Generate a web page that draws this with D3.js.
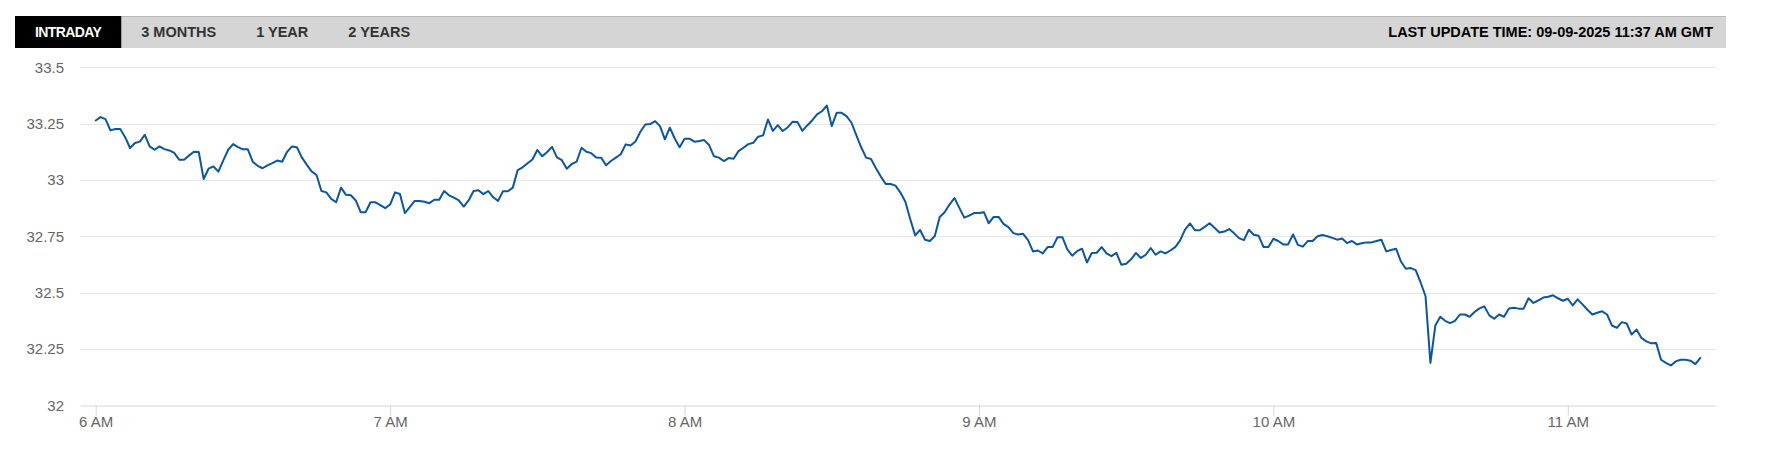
<!DOCTYPE html>
<html>
<head>
<meta charset="utf-8">
<script src="https://cdn.jsdelivr.net/npm/d3@7/dist/d3.min.js"></script>
<style>
  html, body { margin: 0; padding: 0; background: #fff; }
  svg { display: block; }
</style>
</head>
<body>
<svg id="chart" width="1782" height="449"></svg>
<script>
// ---------------- data ----------------
const tabs = ["INTRADAY", "3 MONTHS", "1 YEAR", "2 YEARS"];
const lastUpdate = "LAST UPDATE TIME: 09-09-2025 11:37 AM GMT";
const sessionStart = "2025-09-09T06:00:00";   // first sample, one sample per minute
const yTicks = [32, 32.25, 32.5, 32.75, 33, 33.25, 33.5];
const xTickLabels = ["6 AM", "7 AM", "8 AM", "9 AM", "10 AM", "11 AM"];
const xTickHours = [6, 7, 8, 9, 10, 11];
const prices = [
  33.264, 33.279, 33.270, 33.220, 33.226, 33.226, 33.190, 33.142, 33.164, 33.170,
  33.200, 33.149, 33.134, 33.149, 33.137, 33.131, 33.120, 33.090, 33.090, 33.108,
  33.125, 33.124, 33.004, 33.050, 33.060, 33.037, 33.087, 33.134, 33.159, 33.146,
  33.136, 33.136, 33.081, 33.063, 33.052, 33.065, 33.075, 33.086, 33.081, 33.125,
  33.149, 33.145, 33.100, 33.068, 33.038, 33.022, 32.951, 32.945, 32.916, 32.901,
  32.966, 32.934, 32.932, 32.909, 32.857, 32.857, 32.901, 32.901, 32.888, 32.875,
  32.891, 32.945, 32.938, 32.853, 32.879, 32.907, 32.907, 32.903, 32.897, 32.912,
  32.912, 32.951, 32.932, 32.922, 32.909, 32.882, 32.909, 32.951, 32.954, 32.937,
  32.951, 32.923, 32.907, 32.950, 32.950, 32.966, 33.044, 33.056, 33.074, 33.091,
  33.133, 33.105, 33.124, 33.147, 33.100, 33.088, 33.050, 33.071, 33.081, 33.143,
  33.125, 33.119, 33.100, 33.099, 33.065, 33.084, 33.099, 33.114, 33.158, 33.153,
  33.171, 33.214, 33.246, 33.248, 33.261, 33.239, 33.180, 33.232, 33.184, 33.145,
  33.183, 33.183, 33.170, 33.173, 33.177, 33.155, 33.105, 33.099, 33.084, 33.097,
  33.094, 33.128, 33.143, 33.159, 33.165, 33.192, 33.198, 33.268, 33.218, 33.243,
  33.217, 33.233, 33.258, 33.257, 33.218, 33.242, 33.264, 33.291, 33.305, 33.330,
  33.239, 33.298, 33.298, 33.283, 33.255, 33.199, 33.145, 33.099, 33.093, 33.052,
  33.015, 32.982, 32.982, 32.975, 32.944, 32.903, 32.826, 32.754, 32.778, 32.735,
  32.729, 32.751, 32.836, 32.857, 32.891, 32.920, 32.876, 32.833, 32.842, 32.853,
  32.853, 32.857, 32.808, 32.836, 32.836, 32.805, 32.791, 32.764, 32.758, 32.761,
  32.733, 32.683, 32.687, 32.674, 32.702, 32.702, 32.746, 32.746, 32.692, 32.664,
  32.684, 32.695, 32.634, 32.676, 32.677, 32.702, 32.674, 32.662, 32.677, 32.624,
  32.628, 32.648, 32.676, 32.654, 32.668, 32.698, 32.668, 32.683, 32.674, 32.687,
  32.702, 32.732, 32.780, 32.807, 32.777, 32.777, 32.792, 32.808, 32.788, 32.767,
  32.771, 32.782, 32.763, 32.742, 32.733, 32.779, 32.757, 32.752, 32.702, 32.702,
  32.739, 32.729, 32.714, 32.714, 32.758, 32.712, 32.704, 32.729, 32.729, 32.750,
  32.756, 32.750, 32.743, 32.735, 32.740, 32.720, 32.729, 32.714, 32.719, 32.723,
  32.723, 32.729, 32.735, 32.683, 32.689, 32.695, 32.638, 32.606, 32.609, 32.600,
  32.545, 32.485, 32.188, 32.354, 32.393, 32.375, 32.365, 32.375, 32.403, 32.403,
  32.393, 32.414, 32.430, 32.439, 32.399, 32.384, 32.403, 32.393, 32.430, 32.433,
  32.429, 32.429, 32.475, 32.454, 32.466, 32.478, 32.482, 32.488, 32.475, 32.464,
  32.473, 32.443, 32.470, 32.448, 32.424, 32.403, 32.411, 32.417, 32.403, 32.354,
  32.344, 32.369, 32.363, 32.314, 32.336, 32.299, 32.284, 32.275, 32.277, 32.202,
  32.188, 32.177, 32.195, 32.202, 32.202, 32.198, 32.183, 32.210
];

// ---------------- layout ----------------
const W = 1782, H = 449;
const plot = { left: 80, right: 1716, top: 67.3, bottom: 405.3 };
const FONT = "'Liberation Sans', Arial, Helvetica, sans-serif";

const svg = d3.select("#chart");

// header bar
const header = svg.append("g");
header.append("rect").attr("x", 15).attr("y", 16).attr("width", 1711).attr("height", 32).attr("fill", "#d5d5d5");
header.append("line").attr("x1", 15).attr("x2", 1726).attr("y1", 16.5).attr("y2", 16.5).attr("stroke", "#b9b9b9").attr("stroke-width", 1);

let tx = 15;
tabs.forEach((t, i) => {
  const active = i === 0;
  const g = header.append("g");
  const rect = g.append("rect").attr("y", 16).attr("height", 32).attr("fill", active ? "#000" : "none");
  const text = g.append("text")
    .attr("y", 37)
    .attr("font-family", FONT)
    .attr("font-size", active ? "14px" : "14.5px")
    .attr("font-weight", "bold")
    .attr("letter-spacing", active ? "-0.6px" : "0px")
    .attr("fill", active ? "#fff" : "#333")
    .text(t);
  const w = text.node().getComputedTextLength();
  text.attr("x", tx + 20);
  rect.attr("x", tx).attr("width", w + 40);
  tx += w + 40;
});

header.append("text")
  .attr("x", 1713).attr("y", 37).attr("text-anchor", "end")
  .attr("font-family", FONT).attr("font-size", "14.5px").attr("font-weight", "bold")
  .attr("fill", "#000")
  .text(lastUpdate);

// scales
const parse = d3.timeParse("%Y-%m-%dT%H:%M:%S");
const t0 = parse(sessionStart);
const data = prices.map((v, i) => ({ t: d3.timeMinute.offset(t0, i), v }));
const pad = 3.2 * 60 * 1000;
const x = d3.scaleTime()
  .domain([new Date(+data[0].t - pad), new Date(+data[data.length - 1].t + pad)])
  .range([plot.left, plot.right]);
const y = d3.scaleLinear().domain([32, 33.5]).range([plot.bottom, plot.top]);

// gridlines
svg.append("g")
  .selectAll("line").data(yTicks.filter(d => d !== 32)).join("line")
  .attr("x1", plot.left).attr("x2", plot.right)
  .attr("y1", d => Math.round(y(d)) + 0.5).attr("y2", d => Math.round(y(d)) + 0.5)
  .attr("stroke", "#e6e6e6").attr("stroke-width", 1);

// y labels
svg.append("g")
  .selectAll("text").data(yTicks).join("text")
  .attr("x", 64).attr("y", d => y(d)).attr("dy", "0.35em")
  .attr("text-anchor", "end")
  .attr("font-family", FONT).attr("font-size", "15px").attr("fill", "#666")
  .text(d => String(d));

// x axis
const xTickDates = xTickHours.map(h => { const d = new Date(t0); d.setHours(h, 0, 0, 0); return d; });
const xAxis = d3.axisBottom(x)
  .tickValues(xTickDates)
  .tickFormat((d, i) => xTickLabels[i])
  .tickSize(10)
  .tickSizeOuter(0);
const xg = svg.append("g").attr("transform", `translate(0,${Math.round(plot.bottom) + 0.5})`).call(xAxis);
xg.select(".domain").attr("stroke", "#ccd6eb");
xg.selectAll(".tick line").attr("stroke", "#ccd6eb");
xg.selectAll(".tick text")
  .attr("font-family", FONT).attr("font-size", "15px").attr("fill", "#666")
  .attr("y", 11).attr("dy", "0.71em");

// line
const line = d3.line().x(d => x(d.t)).y(d => y(d.v));
svg.append("path").datum(data)
  .attr("d", line)
  .attr("fill", "none")
  .attr("stroke", "#0b56a4")
  .attr("stroke-width", 2)
  .attr("stroke-linejoin", "round")
  .attr("stroke-linecap", "round");
</script>
</body>
</html>
